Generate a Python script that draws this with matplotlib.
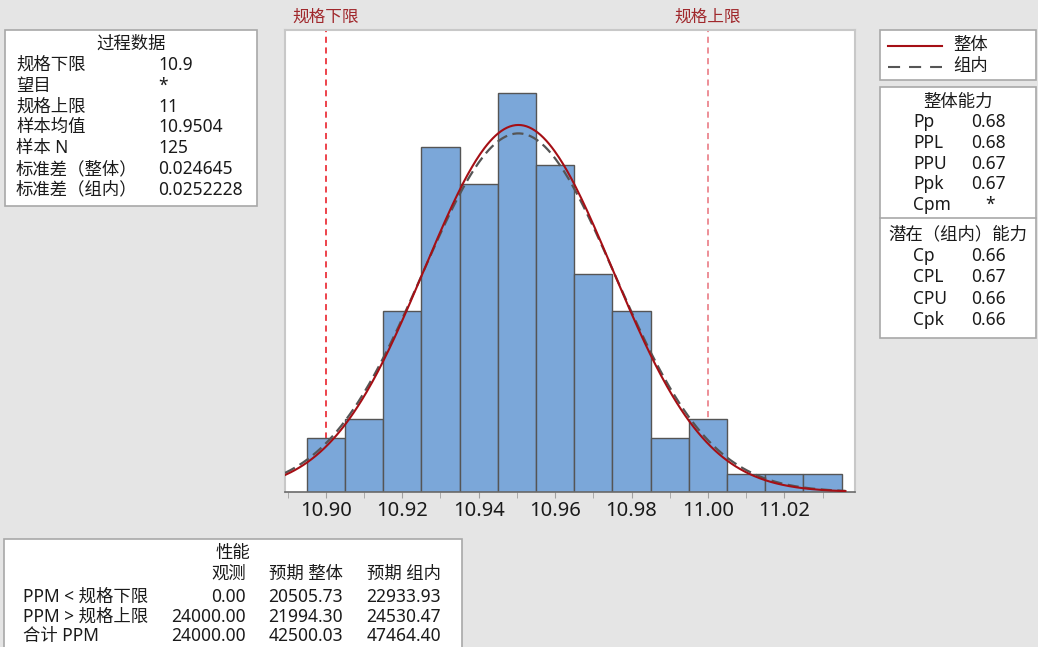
import numpy as np
import matplotlib
matplotlib.use("Agg")
import matplotlib.pyplot as plt
from matplotlib.patches import Rectangle
from matplotlib.lines import Line2D

plt.rcParams['font.family'] = ['Noto Sans', 'Noto Sans CJK SC', 'DejaVu Sans']

#========================================================
# data
#========================================================
bin_centers = [10.90, 10.91, 10.92, 10.93, 10.94, 10.95, 10.96,
               10.97, 10.98, 10.99, 11.00, 11.01, 11.02, 11.03]
counts = [3, 4, 10, 19, 17, 22, 18, 12, 10, 3, 4, 1, 1, 1]
bin_width = 0.01

lsl = 10.9
usl = 11.0
sample_mean = 10.9504
sd_overall = 0.024645
sd_within = 0.0252228
n_sample = 125

process_labels = ["规格下限", "望目", "规格上限", "样本均值", "样本 N", "标准差（整体）", "标准差（组内）"]
process_values = ["10.9", "*", "11", "10.9504", "125", "0.024645", "0.0252228"]

overall_names = ["Pp", "PPL", "PPU", "Ppk", "Cpm"]
overall_values = ["0.68", "0.68", "0.67", "0.67", "*"]
within_names = ["Cp", "CPL", "CPU", "Cpk"]
within_values = ["0.66", "0.67", "0.66", "0.66"]

perf_rows = ["PPM < 规格下限", "PPM > 规格上限", "合计 PPM"]
perf_observed = ["0.00", "24000.00", "24000.00"]
perf_exp_overall = ["20505.73", "21994.30", "42500.03"]
perf_exp_within = ["22933.93", "24530.47", "47464.40"]

major_ticks = [10.90, 10.92, 10.94, 10.96, 10.98, 11.00, 11.02]
minor_ticks = [10.89, 10.91, 10.93, 10.95, 10.97, 10.99, 11.01, 11.03]

#========================================================
# figure and layout (pixel helpers)
#========================================================
W, H = 1038, 647
fig = plt.figure(figsize=(W / 100, H / 100), dpi=100, facecolor="#e5e5e5")

def fx(x):
    return x / W

def fy(y):
    return 1 - y / H

def box(x0, y0, x1, y1):
    fig.patches.append(Rectangle((fx(x0), fy(y1)), (x1 - x0) / W, (y1 - y0) / H,
                                 transform=fig.transFigure, facecolor="white",
                                 edgecolor="#a8a8a8", lw=1.2, zorder=0))

def txt(x, y, s, ha="left", **kw):
    fig.text(fx(x), fy(y), s, ha=ha, va="center", fontsize=12.5, color="#1a1a1a", **kw)

ax = fig.add_axes([fx(285), fy(492), (855 - 285) / W, (492 - 30) / H])
ax.set_facecolor("white")

# histogram
ax.bar(bin_centers, counts, width=bin_width, color="#7ba7d9",
       edgecolor="#555555", linewidth=1, zorder=2)

# spec limits
ax.axvline(lsl, color="#e8101a", linestyle=(0, (4, 3)), linewidth=1.1, zorder=1)
ax.axvline(usl, color="#e8707a", linestyle=(0, (4, 3)), linewidth=1.1, zorder=1)

# fitted normal curves (scaled to counts)
xs = np.linspace(10.8893, 11.036, 400)
scale = n_sample * bin_width
pdf_overall = scale * np.exp(-0.5 * ((xs - sample_mean) / sd_overall) ** 2) / (sd_overall * np.sqrt(2 * np.pi))
pdf_within = scale * np.exp(-0.5 * ((xs - sample_mean) / sd_within) ** 2) / (sd_within * np.sqrt(2 * np.pi))
ax.plot(xs, pdf_within, color="#555555", linestyle=(0, (5, 2.5)), linewidth=1.6, zorder=3)
ax.plot(xs, pdf_overall, color="#a50f15", linewidth=1.5, zorder=4)

ax.set_xlim(10.8893, 11.0385)
ax.set_ylim(0, 25.47)
ax.set_yticks([])
ax.set_xticks(major_ticks)
ax.set_xticklabels([f"{t:.2f}" for t in major_ticks])
ax.set_xticks(minor_ticks, minor=True)
ax.tick_params(axis="x", which="both", length=4, color="#a0a0a0", labelsize=14.5,
               pad=2.5, labelcolor="#1a1a1a")
for side in ["left", "top", "right"]:
    ax.spines[side].set_color("#c8c8c8")
    ax.spines[side].set_linewidth(1.5)
ax.spines["bottom"].set_color("#6a6a6a")
ax.spines["bottom"].set_linewidth(1.2)

# spec labels above plot
fig.text(ax.transData.transform((lsl, 0))[0] / W, fy(18), "规格下限", ha="center",
         va="center", fontsize=12, color="#a0282c")
fig.text(ax.transData.transform((usl, 0))[0] / W, fy(18), "规格上限", ha="center",
         va="center", fontsize=12, color="#a0282c")

#========================================================
# process data box
#========================================================
box(5, 30, 257, 206)
txt(131, 44, "过程数据", ha="center")
for i, (lab, val) in enumerate(zip(process_labels, process_values)):
    y = 65 + i * 20.8
    txt(16, y, lab)
    txt(158, y, val)

#========================================================
# legend box
#========================================================
box(880, 30, 1036, 80)
fig.add_artist(Line2D([fx(888), fx(942)], [fy(46), fy(46)], color="#a50f15", lw=1.5))
fig.add_artist(Line2D([fx(888), fx(942)], [fy(67), fy(67)], color="#555555", lw=1.5,
                      linestyle=(0, (5.8, 4.3))))
txt(953, 45, "整体")
txt(953, 66, "组内")

#========================================================
# capability box
#========================================================
box(880, 87, 1036, 338)
fig.add_artist(Line2D([fx(880), fx(1036)], [fy(218), fy(218)], color="#a8a8a8", lw=1.2))
txt(958, 102, "整体能力", ha="center")
for i, (name, val) in enumerate(zip(overall_names, overall_values)):
    y = 122 + i * 20.8
    txt(913, y, name)
    if val == "*":
        txt(990, y, val, ha="center")
    else:
        txt(1006, y, val, ha="right")
txt(958, 234, "潜在（组内）能力", ha="center")
for i, (name, val) in enumerate(zip(within_names, within_values)):
    y = 256 + i * 21.3
    txt(913, y, name)
    txt(1006, y, val, ha="right")

#========================================================
# performance box
#========================================================
box(4, 539, 462, 670)
txt(233, 553, "性能", ha="center")
txt(246, 574, "观测", ha="right")
txt(343, 574, "预期 整体", ha="right")
txt(441, 574, "预期 组内", ha="right")
for i, row in enumerate(perf_rows):
    y = 597 + i * 19.5
    txt(23, y, row)
    txt(246, y, perf_observed[i], ha="right")
    txt(343, y, perf_exp_overall[i], ha="right")
    txt(441, y, perf_exp_within[i], ha="right")

fig.savefig("out.png", dpi=100, facecolor=fig.get_facecolor())
